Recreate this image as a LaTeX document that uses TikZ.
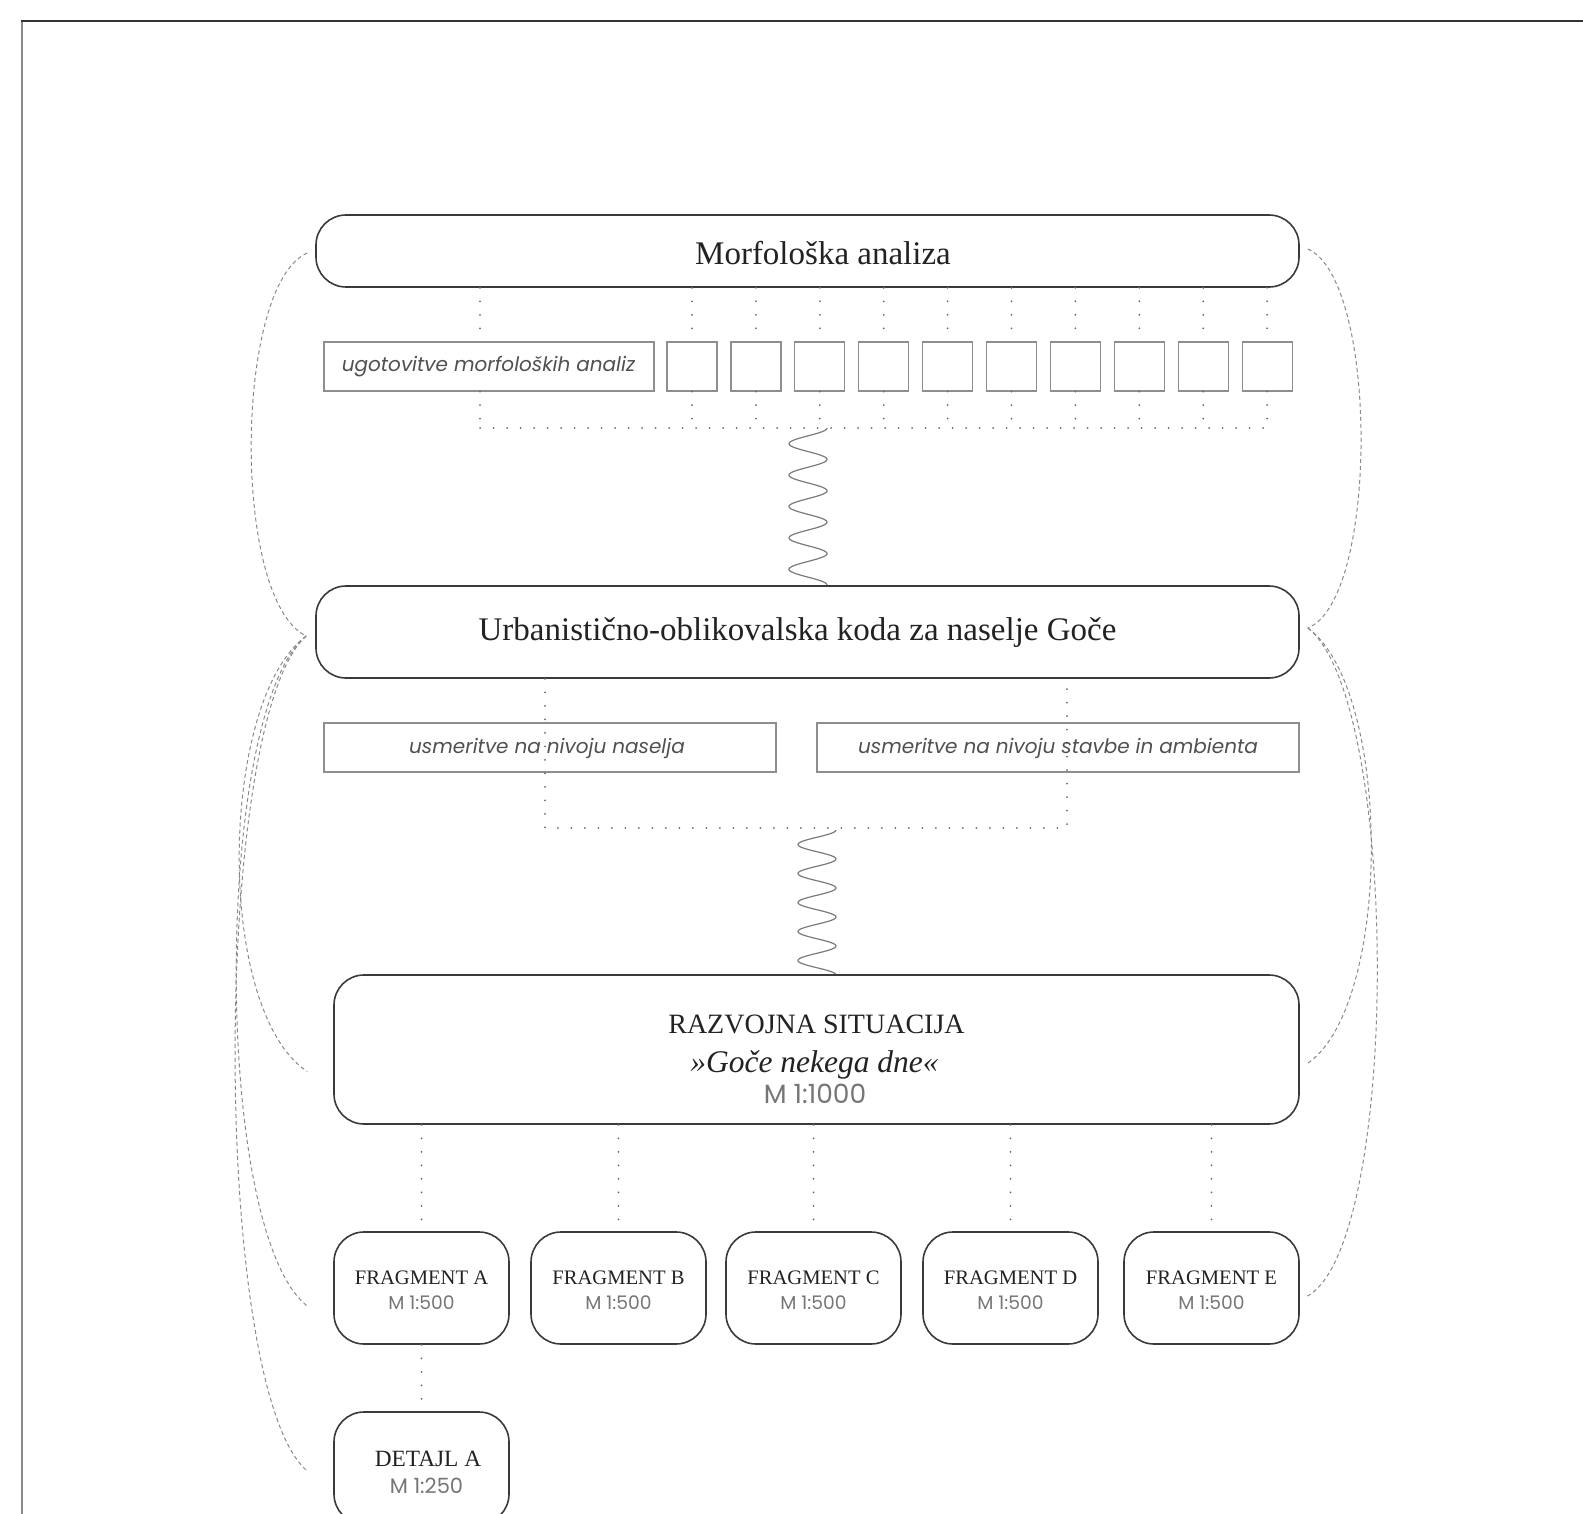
\documentclass[tikz,border=0pt]{standalone}
\usepackage{fontspec}
\setmainfont{Liberation Serif}
\newfontfamily\sansf{Poppins}
\usetikzlibrary{calc}
\definecolor{boxc}{HTML}{3A3A3A}
\definecolor{rectc}{HTML}{8E8E8E}
\definecolor{dotc}{HTML}{6A6A6A}
\definecolor{dashc}{HTML}{8A8A8A}
\definecolor{serifc}{HTML}{222222}
\definecolor{sansc}{HTML}{505050}
\definecolor{scalec}{HTML}{767676}
\definecolor{topc}{HTML}{333333}
\definecolor{leftc}{HTML}{8A8A8A}
\definecolor{wavec}{HTML}{7A7A7A}
\begin{document}
\begin{tikzpicture}[x=1pt,y=-1pt,
  bigbox/.style={draw=boxc, line width=1.6pt, rounded corners=30pt, inner sep=0pt},
  smallbox/.style={draw=rectc, line width=1.2pt, inner sep=0pt},
  dotline/.style={draw=dotc, line width=2pt, line cap=round, dash pattern=on 0pt off 13.5pt},
  dashline/.style={draw=dashc, line width=1pt, dash pattern=on 4pt off 3pt},
  wave/.style={draw=wavec, line width=1.2pt},
  title/.style={font=\fontsize{33}{33}\selectfont, text=serifc, anchor=base, inner sep=0pt},
  rstitle/.style={font=\fontsize{28}{28}\selectfont, text=serifc, anchor=base, inner sep=0pt},
  rsital/.style={font=\fontsize{31.5}{31.5}\selectfont\itshape, text=serifc, anchor=base, inner sep=0pt},
  itsans/.style={font=\sansf\itshape\fontsize{20}{20}\selectfont, text=sansc, anchor=base, inner sep=0pt},
  bigscale/.style={font=\sansf\fontsize{26.5}{26.5}\selectfont, text=scalec, anchor=base, inner sep=0pt},
  fragt/.style={font=\fontsize{20.6}{20.6}\selectfont, text=serifc, anchor=base, inner sep=0pt},
  fragscale/.style={font=\sansf\fontsize{18.7}{18.7}\selectfont, text=scalec, anchor=base, inner sep=0pt},
  dett/.style={font=\fontsize{23.3}{23.3}\selectfont, text=serifc, anchor=base, inner sep=0pt},
  detscale/.style={font=\sansf\fontsize{21}{21}\selectfont, text=scalec, anchor=base, inner sep=0pt},
]
\useasboundingbox (0,0) rectangle (1583,1514);

% frame
\coordinate (fTL) at (22,21);
\coordinate (fTR) at (1583,21);
\coordinate (fBL) at (22,1514);
\draw[leftc, line width=2pt] (fTL) -- (fBL);
\draw[topc, line width=2pt] ([xshift=-1pt]fTL) -- (fTR);

% level 1
\node[bigbox, minimum width=983pt, minimum height=72pt] (box1) at (807.5,251) {};
\node[title] (t1) at (823,265) {Morfološka analiza};

\node[smallbox, minimum width=330pt, minimum height=49pt] (lab1) at (489,366.5) {};
\node[itsans] (tl1) at (488.5,372) {ugotovitve morfoloških analiz};
\foreach \i in {0,...,9} {
  \node[smallbox, minimum width=50pt, minimum height=49pt] (sq\i) at ({692+63.9*\i},366.5) {};
}
\coordinate (h1L) at (480,428);
\draw[dotline] (h1L |- box1.south) -- (h1L |- lab1.north);
\draw[dotline] (h1L |- lab1.south) -- (h1L);
\foreach \i in {0,...,9} {
  \draw[dotline] (sq\i.north |- box1.south) -- (sq\i.north);
  \draw[dotline] (sq\i.south) -- (sq\i.south |- h1L);
}
\draw[dotline] (h1L) -- (sq9.south |- h1L);

% wave 1
\coordinate (w1) at (808,428);
\draw[wave, shift={(w1)}] plot[domain=0:1, samples=240, variable=\t] ({19*cos(1800*\t)}, {157*\t});

% level 2
\node[bigbox, minimum width=983pt, minimum height=92pt] (box2) at (807.5,632) {};
\node[title] (t2) at (797.5,640) {Urbanistično-oblikovalska koda za naselje Goče};

\node[smallbox, minimum width=452pt, minimum height=49pt] (r1) at (550,747.5) {};
\node[smallbox, minimum width=482pt, minimum height=49pt] (r2) at (1058,747.5) {};
\coordinate (h2L) at (545,828);
\coordinate (h2R) at (1067,828);
\draw[dotline] (h2L |- box2.south) -- (h2L) -- (h2R) -- (h2R |- box2.south);
\node[itsans] (tr1) at (547,753) {usmeritve na nivoju naselja};
\node[itsans] (tr2) at (1058,753) {usmeritve na nivoju stavbe in ambienta};

% wave 2
\coordinate (w2) at (817,830);
\draw[wave, shift={(w2)}] plot[domain=0:1, samples=240, variable=\t] ({19*cos(1800*\t)}, {145*\t});

% level 3
\node[bigbox, minimum width=965pt, minimum height=149pt] (box3) at (816.5,1049.5) {};
\node[rstitle] (t3a) at (816.5,1033) {RAZVOJNA SITUACIJA};
\node[rsital] (t3b) at (814.5,1072) {»Goče nekega dne«};
\node[bigscale] (t3c) at (815,1103) {M 1:1000};

% fragments
\foreach \n/\x in {A/421.5, B/618.5, C/813.5, D/1010.5, E/1211.5} {
  \node[bigbox, minimum width=175pt, minimum height=112pt] (frag\n) at (\x,1288) {};
  \node[fragt] (ft\n) at (\x,1284) {FRAGMENT \n};
  \node[fragscale] (fs\n) at (\x,1309) {M 1:500};
  \draw[dotline] (frag\n.north |- box3.south) -- (frag\n.north);
}

% detail
\node[bigbox, minimum width=175pt, minimum height=112pt] (detA) at (421.5,1468) {};
\node[dett] (tdA) at (428,1466) {DETAJL A};
\node[detscale] (sdA) at (426.5,1493) {M 1:250};
\draw[dotline] (fragA.south) -- (detA.north);

% dashed feedback curves
\coordinate (c1L) at ([xshift=-8pt,yshift=-2pt]box1.west);
\coordinate (c2L) at ([xshift=-9pt,yshift=-4pt]box2.west);
\coordinate (c1R) at ([xshift=8pt,yshift=2pt]box1.east);
\coordinate (c2R) at ([xshift=8pt,yshift=4pt]box2.east);
\coordinate (c3L) at ([xshift=-26pt,yshift=-22pt]box3.west);
\coordinate (c3R) at ([xshift=6pt,yshift=-15pt]box3.east);
\coordinate (cAL) at ([xshift=-26pt,yshift=-18pt]fragA.west);
\coordinate (cER) at ([xshift=6pt,yshift=-9pt]fragE.east);
\coordinate (cDL) at ([xshift=-26pt,yshift=-3pt]detA.west);

\draw[dashline] (c1L) .. controls +(-73,32) and +(-75,-36) .. (c2L);
\draw[dashline] (c1R) .. controls +(71,31) and +(71,-28) .. (c2R);
\draw[dashline] (c2L) .. controls +(-87,64) and +(-93,-62) .. (c3L);
\draw[dashline] (c2L) .. controls +(-92,74) and +(-96,-76) .. (cAL);
\draw[dashline] (c2L) .. controls +(-95,84) and +(-96,-81) .. (cDL);
\draw[dashline] (c2R) .. controls +(85,62) and +(87,-55) .. (c3R);
\draw[dashline] (c2R) .. controls +(93,72) and +(95,-47) .. (cER);
\end{tikzpicture}
\end{document}
